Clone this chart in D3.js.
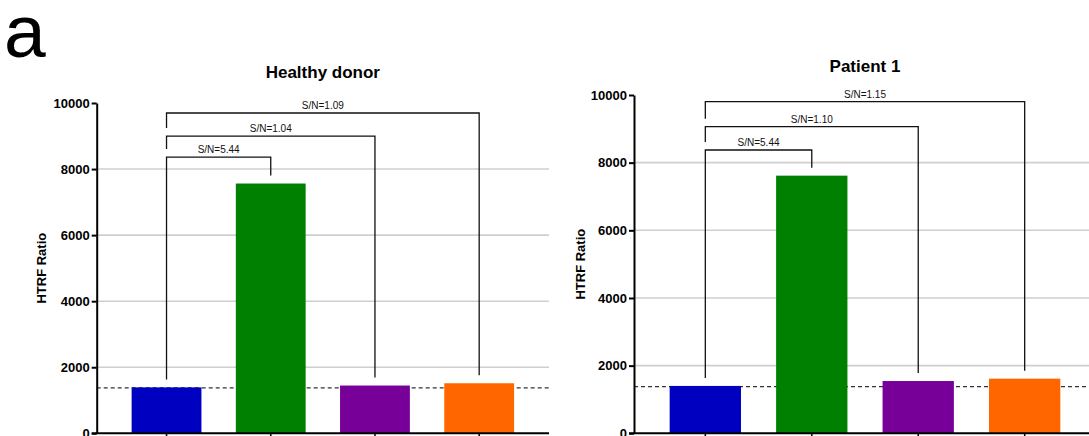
<!DOCTYPE html>
<html>
<head>
<meta charset="utf-8">
<script src="https://cdn.jsdelivr.net/npm/d3@7"></script>
<style>
  html, body { margin: 0; padding: 0; background: #fff; overflow: hidden; }
  svg { display: block; font-family: "Liberation Sans", Arial, sans-serif; }
</style>
</head>
<body>
<svg id="chart" width="1089" height="436"></svg>
<script>
// Conditions measured in each sample
const categories = ["Negative", "Positive", "Sample 1", "Sample 2"];
const barColors = ["#0000c0", "#008000", "#770099", "#ff6600"];

// HTRF ratio per condition
const healthyValues = [1390, 7562, 1446, 1515];
const patientValues = [1400, 7616, 1545, 1615];

// Background (negative control) level, shown as a dashed line
const healthyBaseline = 1375;
const patientBaseline = 1380;

// Signal-to-noise comparisons against the negative control
const comparisonTargets = [1, 2, 3];
const healthyRatios = ["5.44", "1.04", "1.09"];
const patientRatios = ["5.44", "1.10", "1.15"];
const healthyBracketLevels = [8364, 9000, 9697];
const patientBracketLevels = [8374, 9063, 9802];

const yTicks = [0, 2000, 4000, 6000, 8000, 10000];
const gridTicks = [2000, 4000, 6000, 8000];

const panels = [
  { title: "Healthy donor", values: healthyValues, baseline: healthyBaseline,
    ratios: healthyRatios, levels: healthyBracketLevels,
    x0: 96.7, x1: 549, yTop: 103, yBottom: 433.3, titleY: 78, yTitleX: 46 },
  { title: "Patient 1", values: patientValues, baseline: patientBaseline,
    ratios: patientRatios, levels: patientBracketLevels,
    x0: 634, x1: 1096, yTop: 95, yBottom: 433.3, titleY: 72, yTitleX: 585 }
];

const svg = d3.select("#chart");

// Panel letter
svg.append("text")
  .attr("x", 4).attr("y", 57)
  .attr("font-size", 75)
  .attr("fill", "#000")
  .text("a");

panels.forEach(p => {
  const g = svg.append("g");
  const x = d3.scaleBand().domain(categories).range([p.x0, p.x1])
    .paddingInner(0.33).paddingOuter(0.335);
  const y = d3.scaleLinear().domain([0, 10000]).range([p.yBottom, p.yTop]);
  const cx = c => x(c) + x.bandwidth() / 2;

  // Gridlines
  g.append("g").selectAll("line").data(gridTicks).join("line")
    .attr("x1", p.x0).attr("x2", p.x1)
    .attr("y1", d => y(d)).attr("y2", d => y(d))
    .attr("stroke", "#cfcfcf").attr("stroke-width", 1.6);

  // Background level
  g.append("line")
    .attr("x1", p.x0).attr("x2", p.x1)
    .attr("y1", y(p.baseline)).attr("y2", y(p.baseline))
    .attr("stroke", "#333").attr("stroke-width", 1.4)
    .attr("stroke-dasharray", "4,3");

  // Bars
  g.append("g").selectAll("rect").data(p.values).join("rect")
    .attr("x", (d, i) => x(categories[i]))
    .attr("width", x.bandwidth())
    .attr("y", d => y(d))
    .attr("height", d => y(0) - y(d))
    .attr("fill", (d, i) => barColors[i]);

  // Comparison brackets
  const gap = 8;
  const br = g.append("g").attr("fill", "none").attr("stroke", "#111").attr("stroke-width", 1.3);
  const refX = cx(categories[0]);
  comparisonTargets.forEach((t, k) => {
    const yb = y(p.levels[k]);
    const tx = cx(categories[t]);
    const leftEnd = k === 0 ? y(p.values[0]) - gap : y(p.levels[k - 1]) - gap;
    br.append("path")
      .attr("d", `M${refX},${leftEnd}V${yb}H${tx}V${y(p.values[t]) - gap}`);
    g.append("text")
      .attr("x", (refX + tx) / 2).attr("y", yb - 4)
      .attr("text-anchor", "middle")
      .attr("font-size", 10)
      .attr("fill", "#111")
      .text("S/N=" + p.ratios[k]);
  });

  // Y axis
  const yAxis = d3.axisLeft(y).tickValues(yTicks).tickFormat(d3.format("d"))
    .tickSize(5).tickSizeOuter(0).tickPadding(2);
  const ya = g.append("g").attr("transform", `translate(${p.x0},0)`).call(yAxis);
  ya.select(".domain").attr("stroke", "#000").attr("stroke-width", 2);
  ya.selectAll(".tick line").attr("stroke", "#000").attr("stroke-width", 2);
  ya.selectAll(".tick text").attr("font-size", 13).attr("font-weight", "bold")
    .attr("fill", "#000").attr("font-family", "Liberation Sans, Arial, sans-serif");

  // X axis
  const xAxis = d3.axisBottom(x).tickFormat("").tickSize(5).tickSizeOuter(0);
  const xa = g.append("g").attr("transform", `translate(0,${y(0)})`).call(xAxis);
  xa.select(".domain").attr("stroke", "#000").attr("stroke-width", 2)
    .attr("d", `M${p.x0 - 5},0H${p.x1}`);
  xa.selectAll(".tick line").attr("stroke", "#000").attr("stroke-width", 1.5);

  // Axis title
  g.append("text")
    .attr("transform", `translate(${p.yTitleX},${(p.yTop + p.yBottom) / 2}) rotate(-90)`)
    .attr("text-anchor", "middle")
    .attr("font-size", 13).attr("font-weight", "bold")
    .text("HTRF Ratio");

  // Panel title
  g.append("text")
    .attr("x", (p.x0 + p.x1) / 2).attr("y", p.titleY)
    .attr("text-anchor", "middle")
    .attr("font-size", 17).attr("font-weight", "bold")
    .text(p.title);
});
</script>
</body>
</html>
